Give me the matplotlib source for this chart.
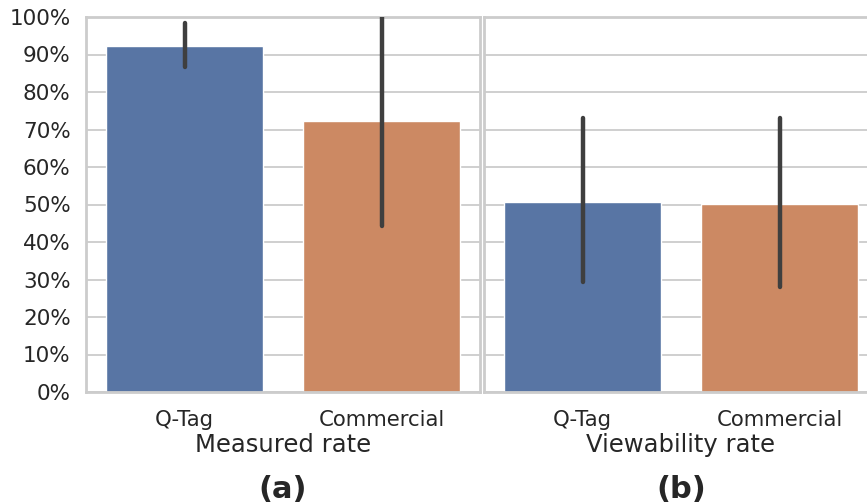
import matplotlib
matplotlib.use("Agg")
import matplotlib.pyplot as plt
import seaborn as sns

sns.set_style("whitegrid")
plt.rcParams['font.family'] = ['DejaVu Sans']

groups = ['Q-Tag', 'Commercial']
panels = ['Measured rate', 'Viewability rate']
panel_tags = ['(a)', '(b)']
# mean and confidence interval (lower, upper), in percent
means = [[92.3, 72.3], [50.7, 50.1]]
ci_low = [[86.7, 44.3], [29.3, 28.0]]
ci_high = [[98.4, 100.0], [73.1, 73.0]]

colors = ['#5875a4', '#cc8963']

W, H = 867, 503
fig = plt.figure(figsize=(W / 100, H / 100), dpi=100)
ax_w = 394 / W
ax_b = 1 - 392 / H
ax_h = 375 / H
lefts = [86 / W, 484 / W]

for k in range(2):
    ax = fig.add_axes([lefts[k], ax_b, ax_w, ax_h])
    x = list(range(len(groups)))
    ax.bar(x, means[k], width=0.8, color=colors, zorder=2)
    ax.vlines(x, ci_low[k], ci_high[k], color='#3f3f3f', lw=3.2, zorder=3,
              capstyle='round')
    ax.set_xlim(-0.5, 1.5)
    ax.set_ylim(0, 100)
    ax.set_yticks(range(0, 101, 10))
    ax.set_xticks(x)
    ax.set_xticklabels(groups, fontsize=15.3, color='#262626')
    ax.grid(axis='x', visible=False)
    ax.grid(axis='y', color='#cccccc', lw=1.3)
    ax.set_axisbelow(True)
    for s in ax.spines.values():
        s.set_color('#cccccc')
        s.set_linewidth(2)
    ax.tick_params(axis='x', length=0, pad=13)
    ax.tick_params(axis='y', length=0, pad=11)
    if k == 0:
        ax.set_yticklabels(['{}%'.format(v) for v in range(0, 101, 10)],
                           fontsize=15.5, color='#262626')
    else:
        ax.set_yticklabels([])
    ax.set_xlabel(panels[k], fontsize=17.5, color='#262626', labelpad=2)
    cx = lefts[k] + ax_w / 2
    fig.text(cx, 1 - 489 / H, panel_tags[k], ha='center', va='center',
             fontsize=22, fontweight='bold', color='#262626')

fig.savefig('out.png', dpi=100)
